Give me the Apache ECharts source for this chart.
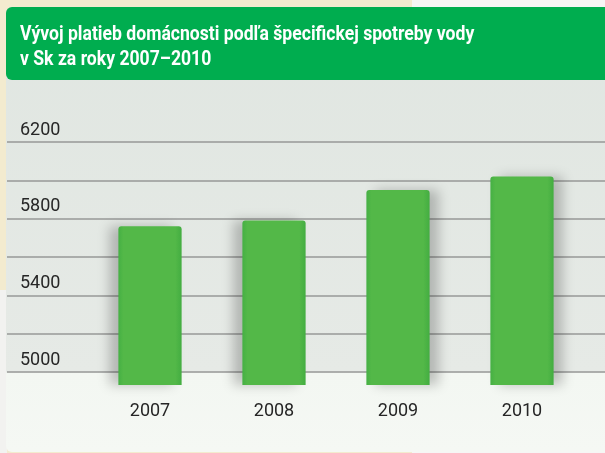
<!DOCTYPE html>
<html>
<head>
<meta charset="utf-8">
<script src="https://cdn.jsdelivr.net/npm/echarts@6/dist/echarts.min.js"></script>
<style>
  html, body { margin: 0; padding: 0; }
  body { width: 605px; height: 453px; position: relative; overflow: hidden;
         background: linear-gradient(to right, #f3ebcf 0, #f3ebcf 412px, #f6f6f5 412px); }
  .strip { position: absolute; left: 0; top: 290px; width: 7px; height: 163px; background: #f2f2f0; }
  .panel { position: absolute; left: 6px; top: 7px; width: 620px; height: 445px; border-radius: 6px;
           background: linear-gradient(to bottom, #e0e6e1 0, #e6eae6 365px, #f3f7f2 366px, #f5f8f4 100%); }
  .head { position: absolute; left: 6px; top: 7px; width: 620px; height: 73px; border-radius: 6px;
          background: #00ad4f; }
  #chart { position: absolute; left: 0; top: 0; width: 605px; height: 453px; }
</style>
</head>
<body>
<div class="strip"></div>
<div class="panel"></div>
<div class="head"></div>
<div id="chart"></div>
<script>
// data
var years = ["2007", "2008", "2009", "2010"];
var payments = [5760, 5790, 5950, 6020];
var yTicks = [5000, 5400, 5800, 6200];

var titleText = "Vývoj platieb domácnosti podľa špecifickej spotreby vody\nv Sk za roky 2007–2010";

var chart = echarts.init(document.getElementById("chart"));

// shadows fall to the left for the first two bars, to the right for the others
var barData = payments.map(function (v, i) {
  return {
    value: v,
    itemStyle: { shadowOffsetX: i < 2 ? -9 : 9 }
  };
});

var option = {
  animation: false,
  // title drawn as text squeezed horizontally, the original uses a condensed face
  graphic: [
    {
      type: "text",
      x: 20,
      y: 22,
      scaleX: 0.88,
      style: {
        text: titleText,
        fill: "#ffffff",
        fontFamily: "Roboto, sans-serif",
        fontWeight: "bold",
        fontSize: 20,
        lineHeight: 25
      }
    }
  ],
  grid: [
    // grid for the horizontal lines and labels: 5000 .. 6200
    { left: 7, right: 0, top: 142, bottom: 81 },
    // grid for bars: the bars stand on the floor a bit below the 5000 line
    { left: 88, right: 21, top: 142, bottom: 68 }
  ],
  xAxis: [
    { gridIndex: 0, type: "category", data: years, show: false },
    {
      gridIndex: 1,
      type: "category",
      data: years,
      axisLine: { show: false },
      axisTick: { show: false },
      axisLabel: {
        margin: 17,
        color: "#262626",
        fontFamily: "Roboto, sans-serif",
        fontSize: 18
      }
    }
  ],
  yAxis: [
    {
      gridIndex: 0,
      type: "value",
      min: 5000,
      max: 6200,
      interval: 200,
      axisLine: { show: false },
      axisTick: { show: false },
      splitLine: { lineStyle: { color: "#979997", width: 1.5 } },
      axisLabel: {
        inside: true,
        margin: 13,
        verticalAlign: "bottom",
        padding: [0, 0, 3, 0],
        color: "#262626",
        fontFamily: "Roboto, sans-serif",
        fontSize: 18,
        formatter: function (v) {
          return yTicks.indexOf(v) >= 0 ? String(v) : "";
        }
      }
    },
    {
      gridIndex: 1,
      type: "value",
      min: 4932,
      max: 6200,
      show: false,
      splitLine: { show: false }
    }
  ],
  series: [
    {
      type: "bar",
      xAxisIndex: 1,
      yAxisIndex: 1,
      barWidth: "51%",
      data: barData,
      itemStyle: {
        color: {
          type: "linear", x: 0, y: 0, x2: 1, y2: 0,
          colorStops: [
            { offset: 0, color: "#45b044" },
            { offset: 0.08, color: "#53b848" },
            { offset: 0.9, color: "#53b848" },
            { offset: 1, color: "#43ad41" }
          ]
        },
        borderRadius: [3, 3, 0, 0],
        shadowColor: "rgba(0,0,0,0.22)",
        shadowBlur: 12
      }
    }
  ]
};

chart.setOption(option);
</script>
</body>
</html>
